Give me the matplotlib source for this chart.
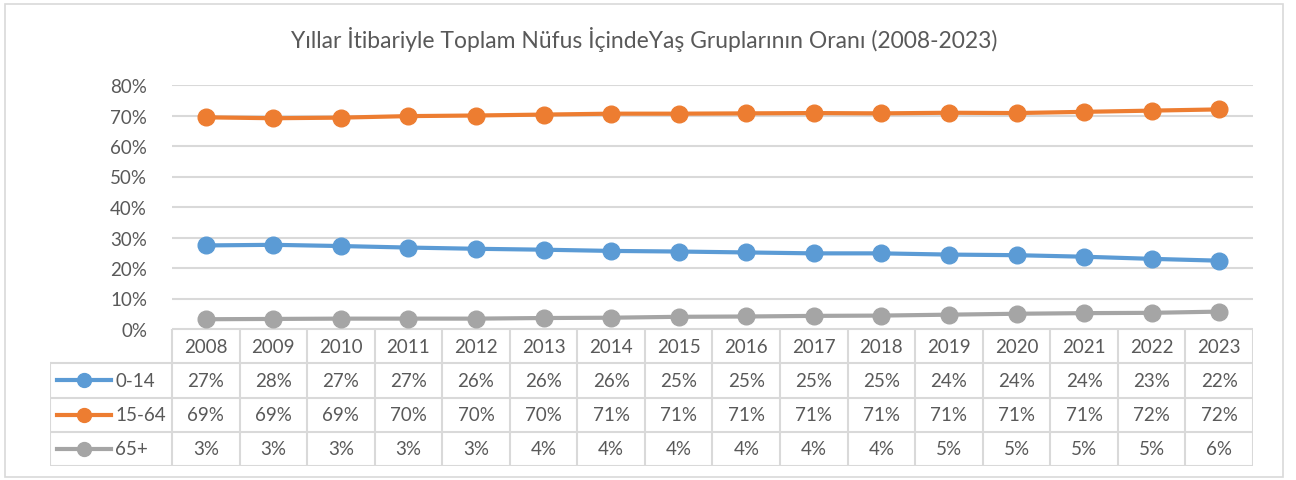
import matplotlib.pyplot as plt
from matplotlib.lines import Line2D
from matplotlib.patches import Rectangle
import matplotlib.ticker as ticker

years = [2008, 2009, 2010, 2011, 2012, 2013, 2014, 2015,
         2016, 2017, 2018, 2019, 2020, 2021, 2022, 2023]
age_0_14 = [27.4, 27.6, 27.2, 26.7, 26.3, 26.0, 25.6, 25.4,
            25.1, 24.8, 24.8, 24.4, 24.2, 23.7, 23.0, 22.4]
age_15_64 = [69.4, 69.1, 69.3, 69.8, 70.0, 70.3, 70.6, 70.6,
             70.7, 70.8, 70.7, 70.9, 70.8, 71.2, 71.6, 72.0]
age_65 = [3.2, 3.3, 3.4, 3.4, 3.4, 3.6, 3.7, 4.0,
          4.1, 4.3, 4.4, 4.7, 5.0, 5.2, 5.3, 5.7]
series_names = ["0-14", "15-64", "65+"]
series_colors = ["#5B9BD5", "#ED7D31", "#A5A5A5"]
title = "Yıllar İtibariyle Toplam Nüfus İçindeYaş Gruplarının Oranı (2008-2023)"

plt.rcParams['font.family'] = ['Lato', 'DejaVu Sans']
txt = "#595959"
grid = "#D9D9D9"

W, H = 1296, 481
fig = plt.figure(figsize=(W / 100, H / 100), dpi=100)

def px_axes(left, top, right, bottom):
    return fig.add_axes([left / W, 1 - bottom / H, (right - left) / W, (bottom - top) / H])

# outer chart border
fig.patches.append(Rectangle((5 / W, 3 / H), 1278 / W, 473 / H, transform=fig.transFigure,
                             fill=False, edgecolor=grid, linewidth=1.2))

fig.text(644 / W, 1 - 40 / H, title, ha="center", va="center", fontsize=16.5, color=txt)

# line chart
ax = px_axes(172, 86, 1253, 330)
x = list(range(len(years)))
all_series = [age_0_14, age_15_64, age_65]
for vals, color in zip(all_series, series_colors):
    ax.plot(x, [v / 100 for v in vals], color=color, linewidth=3,
            marker="o", markersize=12, zorder=3)
ax.set_xlim(-0.5, len(years) - 0.5)
ax.set_ylim(0, 0.8)
ax.set_yticks([i / 10 for i in range(9)])
ax.yaxis.set_major_formatter(ticker.PercentFormatter(1.0, decimals=0))
ax.tick_params(axis="y", length=0, pad=18, labelsize=13.5, labelcolor=txt)
ax.set_xticks([])
ax.grid(axis="y", color=grid, linewidth=1.5)
ax.set_axisbelow(True)
for s in ax.spines.values():
    s.set_visible(False)

# data table below
col_w = (1253 - 172) / len(years)
leg_w = (172 - 50) / col_w
tab = px_axes(50, 330, 1253, 467)
tab.set_xlim(-0.5 - leg_w, len(years) - 0.5)
tab.set_ylim(0, 4)
tab.axis("off")
lw = 1.5
# horizontal lines
tab.plot([-0.5, len(years) - 0.5], [4, 4], color=grid, lw=lw)
for yy in [0, 1, 2, 3]:
    tab.plot([-0.5 - leg_w, len(years) - 0.5], [yy, yy], color=grid, lw=lw)
# vertical lines
tab.plot([-0.5 - leg_w, -0.5 - leg_w], [0, 3], color=grid, lw=lw)
for i in range(len(years) + 1):
    tab.plot([i - 0.5, i - 0.5], [0, 4], color=grid, lw=lw)

for i, yr in enumerate(years):
    tab.text(i, 3.5, str(yr), ha="center", va="center", fontsize=13.5, color=txt)
for r, (name, vals, color) in enumerate(zip(series_names, all_series, series_colors)):
    yc = 2.5 - r
    for i, v in enumerate(vals):
        tab.text(i, yc, f"{v:.0f}%", ha="center", va="center", fontsize=13.5, color=txt)
    x0 = -0.5 - leg_w + 7 / col_w
    x1 = x0 + 54 / col_w
    tab.add_line(Line2D([x0, x1], [yc, yc], color=color, lw=3))
    tab.plot([(x0 + x1) / 2], [yc], marker="o", color=color, markersize=10)
    tab.text(x1 + 4 / col_w, yc, name, ha="left", va="center", fontsize=13.5, color=txt)

fig.savefig("out.png", dpi=100)
